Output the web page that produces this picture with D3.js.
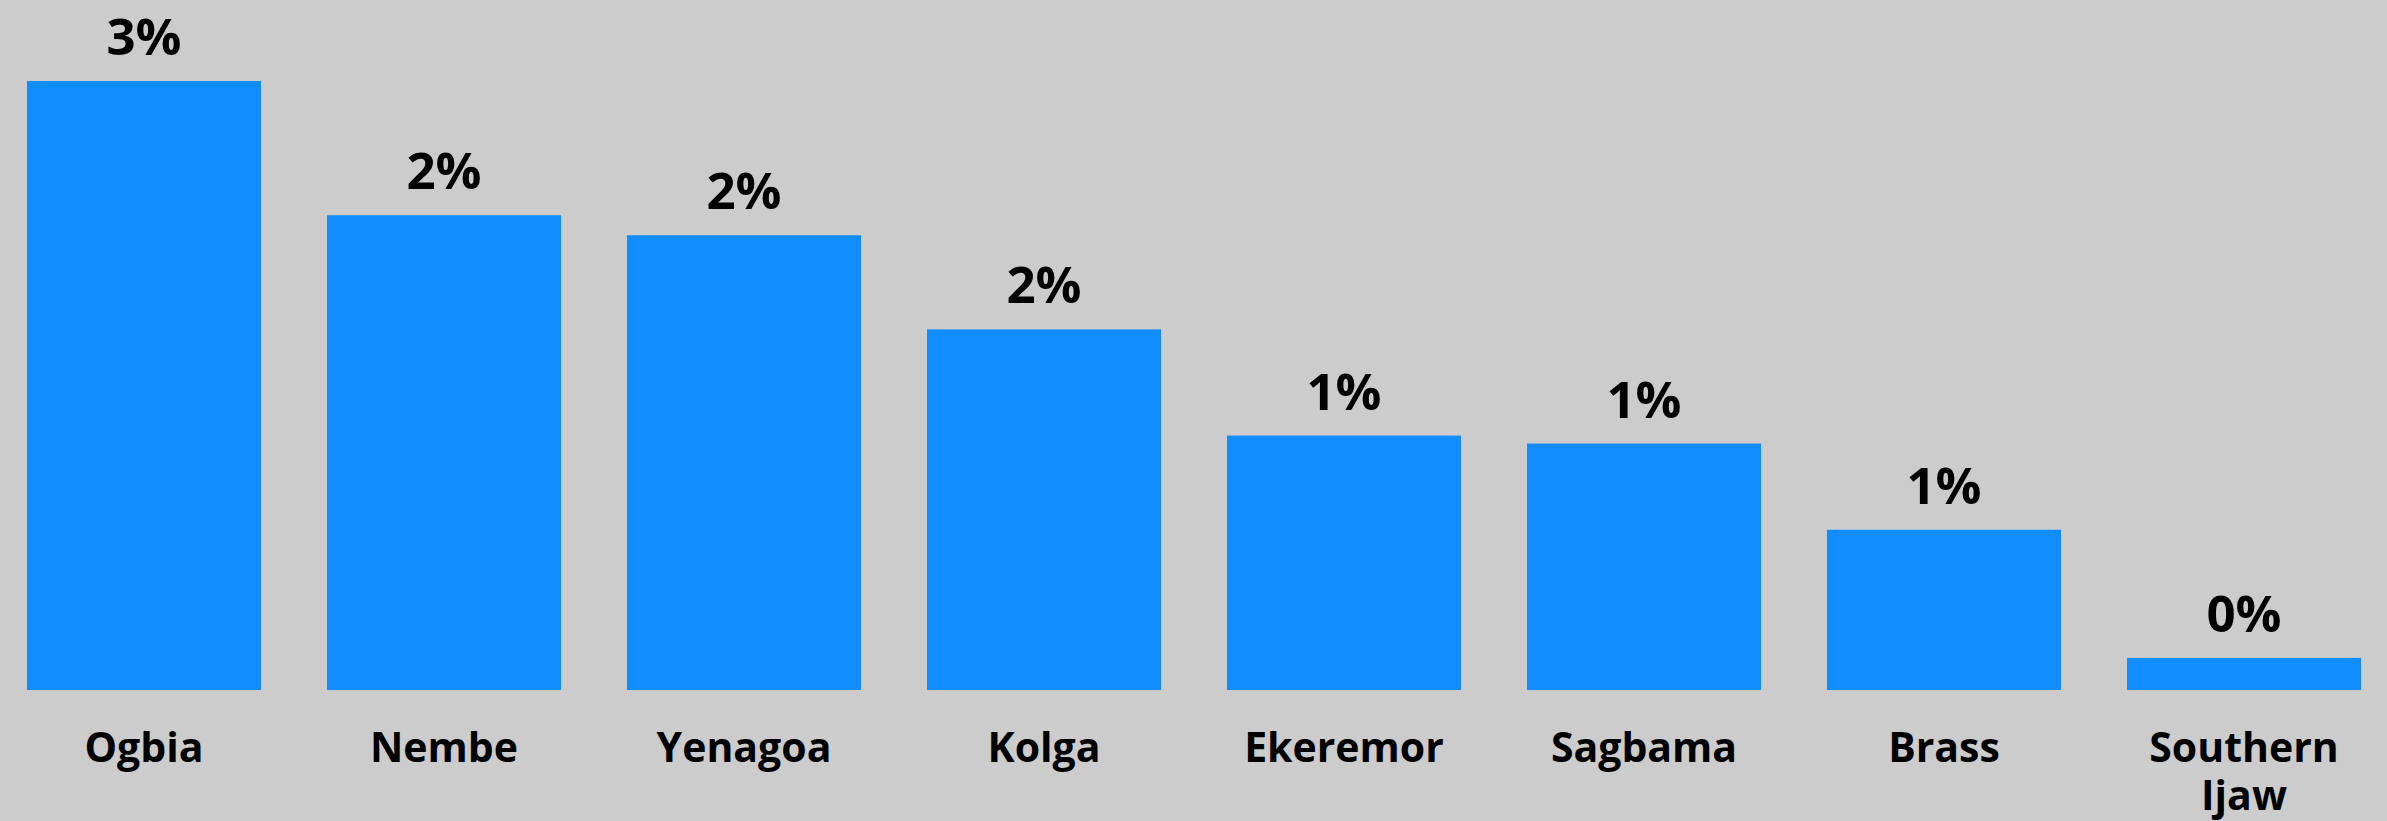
<!DOCTYPE html>
<html>
<head>
<meta charset="utf-8">
<script src="https://cdn.jsdelivr.net/npm/d3@7"></script>
<style>
  html, body { margin: 0; padding: 0; background: #cccccc; }
  svg { display: block; }
  text { font-family: "Segoe UI", "Open Sans", "Noto Sans", sans-serif; fill: #000; }
</style>
</head>
<body>
<svg id="chart"></svg>
<script>
// Share of total by Local Government Area
const categories = ["Ogbia", "Nembe", "Yenagoa", "Kolga", "Ekeremor", "Sagbama", "Brass", "Southern Ijaw"];
const values = [0.0304, 0.0237, 0.0227, 0.0180, 0.0127, 0.0123, 0.0080, 0.0016];

const W = 2387, H = 821;
const svg = d3.select("#chart").attr("width", W).attr("height", H);

const x = d3.scaleBand()
  .domain(categories)
  .range([27, 2361])
  .paddingInner(0.22)
  .paddingOuter(0);

const y = d3.scaleLinear()
  .domain([0, d3.max(values)])
  .range([690, 81]);

const data = categories.map((c, i) => ({ c, v: values[i] }));
const pct = d3.format(".0%");

// bars
svg.append("g").selectAll("rect")
  .data(data)
  .join("rect")
  .attr("x", d => x(d.c))
  .attr("width", x.bandwidth())
  .attr("y", d => y(d.v))
  .attr("height", d => y(0) - y(d.v))
  .attr("fill", "#118dff");

// value labels
svg.append("g").selectAll("text")
  .data(data)
  .join("text")
  .attr("x", d => x(d.c) + x.bandwidth() / 2)
  .attr("y", d => y(d.v) - 26)
  .attr("text-anchor", "middle")
  .style("font-size", "51px")
  .style("font-weight", 700)
  .text(d => pct(d.v));

// category axis
const axis = d3.axisBottom(x).tickSize(0).tickPadding(0);
const gx = svg.append("g").attr("transform", `translate(0,${y(0)})`).call(axis);
gx.select(".domain").remove();
gx.selectAll(".tick text")
  .attr("y", 72)
  .attr("dy", null)
  .style("font-size", "41px")
  .style("font-weight", 700)
  .style("font-family", "\"Segoe UI\", \"Open Sans\", \"Noto Sans\", sans-serif")
  .attr("fill", "#000")
  .each(function () {
    // wrap labels wider than the band
    const t = d3.select(this);
    const words = t.text().split(/\s+/);
    if (this.getComputedTextLength() <= x.bandwidth() || words.length < 2) return;
    t.text(null);
    let line = [];
    let tspan = t.append("tspan").attr("x", 0).attr("dy", 0);
    words.forEach(w => {
      line.push(w);
      tspan.text(line.join(" "));
      if (tspan.node().getComputedTextLength() > x.bandwidth() && line.length > 1) {
        line.pop();
        tspan.text(line.join(" "));
        line = [w];
        tspan = t.append("tspan").attr("x", 0).attr("dy", 48).text(w);
      }
    });
  });
</script>
</body>
</html>
